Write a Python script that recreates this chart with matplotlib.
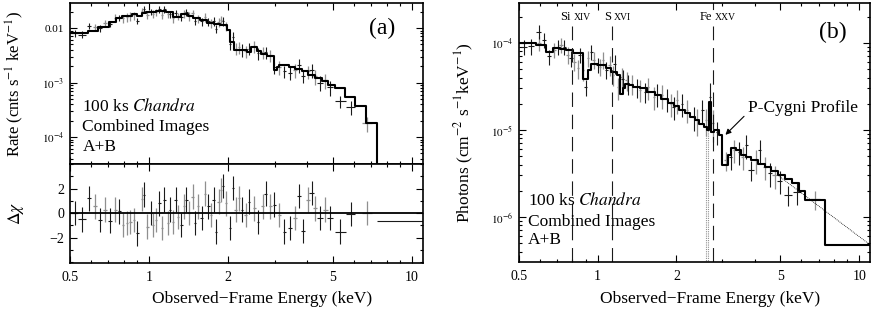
import numpy as np
import matplotlib.pyplot as plt
from matplotlib.ticker import FixedLocator, LogLocator, NullFormatter, MultipleLocator

plt.rcParams['font.family'] = ['Liberation Serif', 'DejaVu Serif']
plt.rcParams['mathtext.fontset'] = 'stix'

# ---- panel (a): folded counts spectrum ----
# model (step, edges in keV, value starting at each edge)
a_model_e = [0.50, 0.587, 0.641, 0.701, 0.745, 0.789, 0.862, 0.901, 0.94, 0.971, 1.061, 1.16,
             1.23, 1.325, 1.40, 1.47, 1.56, 1.655, 1.76, 1.864, 1.977, 2.036, 2.096, 2.36,
             2.45, 2.58, 2.66, 2.80, 2.99, 3.06, 3.13, 3.27, 3.40, 3.58, 3.80, 4.03, 4.27,
             4.53, 4.80, 5.10, 5.57, 6.09, 6.66, 7.35]
a_model_v = [0.0080, 0.0088, 0.0106, 0.0128, 0.0150, 0.0168, 0.0180, 0.0166, 0.0185, 0.0200,
             0.0205, 0.0195, 0.0162, 0.0178, 0.0165, 0.0150, 0.0138, 0.0125, 0.0120, 0.0113,
             0.0092, 0.0056, 0.0040, 0.0037, 0.0045, 0.0038, 0.0034, 0.0031, 0.0017, 0.0019,
             0.0021, 0.0021, 0.0019, 0.0018, 0.0016, 0.0014, 0.0012, 0.00105, 0.0009, 0.00078,
             0.00055, 0.00037, 0.00018, 1e-6]

# image A (black)
a_e_A = [0.521, 0.556, 0.590, 0.651, 0.711, 0.771, 0.902, 0.956, 1.015, 1.093,
         1.143, 1.202, 1.260, 1.325, 1.385, 1.492, 1.582, 1.679, 1.757, 1.798,
         1.908, 2.036, 2.085, 2.259, 2.397, 2.597, 2.780, 2.993, 3.271, 3.420,
         3.716, 3.851, 4.147, 4.467, 4.882, 5.336, 5.834]
a_hw_A = [0.017, 0.02, 0.012, 0.012, 0.012, 0.012, 0.010, 0.010, 0.012, 0.012,
          0.013, 0.013, 0.013, 0.015, 0.015, 0.016, 0.016, 0.018, 0.018, 0.018,
          0.02, 0.02, 0.02, 0.025, 0.03, 0.03, 0.035, 0.04, 0.05, 0.06,
          0.06, 0.08, 0.09, 0.1, 0.12, 0.25, 0.25]
a_rate_A = [0.0080, 0.0076, 0.0110, 0.0100, 0.0120, 0.0155, 0.0134, 0.0225, 0.0200, 0.0220,
            0.0225, 0.0180, 0.0190, 0.0160, 0.0195, 0.0135, 0.0132, 0.0132, 0.0135, 0.0098,
            0.0135, 0.0050, 0.0068, 0.0040, 0.0042, 0.0035, 0.0036, 0.0019, 0.0016, 0.0015,
            0.0021, 0.0013, 0.0017, 0.0010, 0.00082, 0.00046, 0.00036]
a_ferr_A = [0.15, 0.15, 0.14, 0.14, 0.13, 0.13, 0.13, 0.14, 0.14, 0.14,
            0.15, 0.15, 0.15, 0.15, 0.16, 0.16, 0.17, 0.18, 0.18, 0.18,
            0.18, 0.22, 0.22, 0.25, 0.25, 0.25, 0.25, 0.25, 0.25, 0.27,
            0.28, 0.25, 0.3, 0.3, 0.3, 0.25, 0.3]
a_chi_A = [0, -0.5, 1.2, -0.55, -0.6, 0.15, -1.65, 1.5, 0, 0.8,
           1.1, 0.3, 1.1, -0.95, 1.1, -0.8, -0.4, 0.55, 1.1, -1.5,
           2.2, -1.2, 2.05, 0.3, 0.95, -0.7, 1.6, 0.7, -1.5, -1.2,
           1.4, -1.45, 1.65, -0.4, -0.4, -1.5, -0.05]

# image B (grey)
a_e_B = [0.622, 0.680, 0.743, 0.794, 0.825, 0.849, 0.875, 0.937, 0.985, 1.036,
         1.061, 1.119, 1.177, 1.230, 1.286, 1.353, 1.419, 1.462, 1.537, 1.631,
         1.715, 1.836, 1.875, 1.965, 2.130, 2.193, 2.327, 2.508, 2.700, 2.890,
         3.130, 3.575, 4.027, 4.272, 4.670, 6.763]
a_hw_B = [0.012, 0.012, 0.011, 0.009, 0.009, 0.009, 0.009, 0.01, 0.01, 0.011,
          0.011, 0.011, 0.012, 0.012, 0.013, 0.013, 0.014, 0.014, 0.015, 0.016,
          0.016, 0.017, 0.017, 0.018, 0.022, 0.022, 0.025, 0.03, 0.03, 0.035,
          0.045, 0.06, 0.07, 0.09, 0.1, 0.3]
a_rate_B = [0.0104, 0.0125, 0.0155, 0.0150, 0.0158, 0.0165, 0.0170, 0.0205, 0.0175, 0.0182,
            0.0195, 0.0175, 0.0180, 0.0150, 0.0165, 0.0185, 0.0165, 0.0185, 0.0150, 0.0160,
            0.0123, 0.0130, 0.0140, 0.0108, 0.0042, 0.0045, 0.0038, 0.0047, 0.0036, 0.0032,
            0.0019, 0.0017, 0.0016, 0.0013, 0.0011, 0.00018]
a_ferr_B = [0.15, 0.14, 0.15, 0.18, 0.18, 0.18, 0.18, 0.16, 0.16, 0.16,
            0.16, 0.16, 0.16, 0.16, 0.16, 0.16, 0.17, 0.17, 0.18, 0.18,
            0.18, 0.18, 0.18, 0.2, 0.25, 0.25, 0.25, 0.25, 0.25, 0.25,
            0.28, 0.28, 0.28, 0.3, 0.3, 0.3]
a_chi_B = [0.55, 0.3, 0.3, -0.95, -0.8, -0.7, -0.55, 1.15, -1.1, -0.95,
           -0.55, -1.2, -0.8, -0.7, -0.3, 0.55, 0, 1.35, 0.55, 1.6,
           -0.15, 0.95, 1.9, 0.8, 0.3, 1.2, -0.15, 0.4, 0.55, 0.55,
           -0.15, -0.4, 1.1, 0.4, 0.3, 0]

# last wide bin of residuals (lo, hi, chi)
a_last_bin = (7.35, 11.0, -0.6)

# ---- panel (b): unfolded spectrum ----
b_model_e = [0.50, 0.58, 0.634, 0.672, 0.72, 0.757, 0.803, 0.852, 0.878, 0.918, 0.945, 1.00,
             1.08, 1.129, 1.181, 1.216, 1.245, 1.271, 1.32, 1.369, 1.45, 1.55, 1.65, 1.75,
             1.85, 1.95, 2.05, 2.15, 2.25, 2.35, 2.45, 2.55, 2.62, 2.67, 2.71, 2.78, 2.91,
             2.98, 3.14, 3.23, 3.38, 3.53, 3.70, 3.86, 4.10, 4.35, 4.60, 4.91, 5.20, 5.53,
             5.90, 6.22, 7.37, 11.0]
b_model_v = [1.0e-4, 9.6e-5, 7.95e-5, 8.7e-5, 8.6e-5, 8.3e-5, 7.6e-5, 7.7e-5, 3.9e-5, 4.9e-5,
             5.8e-5, 5.6e-5, 5.1e-5, 4.7e-5, 4.3e-5, 2.6e-5, 3.0e-5, 3.4e-5, 3.3e-5, 3.15e-5,
             3.0e-5, 2.7e-5, 2.5e-5, 2.3e-5, 2.05e-5, 1.9e-5, 1.7e-5, 1.55e-5, 1.4e-5, 1.3e-5,
             1.17e-5, 1.07e-5, 1.0e-5, 2.1e-5, 9.5e-6, 1.0e-5, 8.8e-6, 4.0e-6, 5.2e-6, 6.2e-6,
             5.9e-6, 5.2e-6, 4.9e-6, 4.5e-6, 4.1e-6, 3.8e-6, 3.4e-6, 3.0e-6, 2.7e-6, 2.45e-6,
             2.0e-6, 1.58e-6, 4.8e-7, 4.8e-7]
b_cont_e = [4.9, 11.0]
b_cont_v = [3.0e-6, 4.8e-7]

b_e_A = [0.523, 0.554, 0.594, 0.624, 0.653, 0.703, 0.746, 0.791, 0.852, 0.899,
         0.945, 1.003, 1.080, 1.163, 1.245, 1.309, 1.41, 1.52, 1.68, 1.84,
         1.95, 2.10, 2.33, 2.51, 2.69, 2.87, 3.23, 3.48, 3.70, 3.86,
         4.16, 4.55, 4.96, 5.35, 5.77]
b_hw_A = [0.012, 0.015, 0.012, 0.012, 0.012, 0.012, 0.012, 0.012, 0.012, 0.012,
          0.013, 0.014, 0.014, 0.015, 0.015, 0.016, 0.018, 0.02, 0.02, 0.022,
          0.022, 0.025, 0.03, 0.03, 0.03, 0.035, 0.04, 0.05, 0.05, 0.1,
          0.06, 0.08, 0.1, 0.2, 0.2]
b_flux_A = [9.1e-5, 9.2e-5, 1.35e-4, 1.08e-4, 7.0e-5, 9.1e-5, 9.1e-5, 6.7e-5, 7.3e-5, 3.1e-5,
            7.9e-5, 5.6e-5, 4.9e-5, 5.8e-5, 3.9e-5, 3.4e-5, 3.1e-5, 2.75e-5, 2.6e-5, 2.3e-5,
            1.85e-5, 2.0e-5, 1.4e-5, 1.7e-5, 2.4e-5, 9.6e-6, 4.9e-6, 5.6e-6, 6.7e-6, 3.5e-6,
            5.9e-6, 3.2e-6, 2.6e-6, 1.8e-6, 1.95e-6]
b_ferr_A = [0.2, 0.2, 0.18, 0.2, 0.2, 0.2, 0.2, 0.2, 0.2, 0.2,
            0.2, 0.2, 0.22, 0.25, 0.25, 0.25, 0.25, 0.25, 0.3, 0.3,
            0.3, 0.3, 0.3, 0.3, 0.45, 0.3, 0.3, 0.3, 0.3, 0.25,
            0.3, 0.3, 0.3, 0.25, 0.3]

b_e_B = [0.597, 0.683, 0.724, 0.768, 0.815, 0.84, 0.878, 0.918, 0.965, 1.018,
         1.05, 1.11, 1.146, 1.198, 1.234, 1.29, 1.348, 1.45, 1.56, 1.64,
         1.76, 1.90, 2.01, 2.20, 2.40, 2.59, 2.75, 3.09, 3.33, 3.58,
         4.03, 4.35, 4.75, 6.79]
b_hw_B = [0.01, 0.01, 0.01, 0.01, 0.01, 0.01, 0.01, 0.01, 0.011, 0.011,
          0.011, 0.012, 0.012, 0.012, 0.012, 0.013, 0.013, 0.015, 0.015, 0.016,
          0.017, 0.018, 0.02, 0.022, 0.025, 0.025, 0.03, 0.05, 0.05, 0.06,
          0.07, 0.08, 0.1, 0.3]
b_flux_B = [1.0e-4, 8.3e-5, 9.5e-5, 7.3e-5, 6.1e-5, 5.1e-5, 4.9e-5, 6.7e-5, 6.4e-5, 5.3e-5,
            6.4e-5, 5.6e-5, 4.3e-5, 3.1e-5, 4.1e-5, 3.75e-5, 3.4e-5, 2.9e-5, 3.1e-5, 2.4e-5,
            2.5e-5, 2.0e-5, 2.2e-5, 1.7e-5, 1.3e-5, 1.3e-5, 1.2e-5, 4.5e-6, 5.9e-6, 4.9e-6,
            4.5e-6, 3.8e-6, 3.0e-6, 1.6e-6]
b_ferr_B = [0.2, 0.2, 0.2, 0.22, 0.22, 0.25, 0.25, 0.22, 0.22, 0.22,
            0.22, 0.25, 0.25, 0.28, 0.25, 0.25, 0.25, 0.28, 0.28, 0.3,
            0.3, 0.3, 0.3, 0.3, 0.35, 0.35, 0.4, 0.25, 0.3, 0.3,
            0.3, 0.3, 0.3, 0.25]
# grey bins whose lower error goes to zero (drawn dotted)
b_open_e = [2.60, 2.64]
b_open_top = [1.05e-5, 1.3e-5]

lines_e = [0.796, 1.13, 2.75]
lines_el = ['Si', 'S', 'Fe']
lines_ion = ['XIV', 'XVI', 'XXV']

BLACK = '#1a1a1a'
GREY = '#8f8f8f'
XT = [0.5, 1, 2, 5, 10]
XT_MINOR = [0.6, 0.7, 0.8, 0.9, 3, 4, 6, 7, 8, 9]


def style_x(ax, labels=True):
    ax.set_xscale('log')
    ax.set_xlim(0.5, 11.0)
    ax.set_xticks(XT)
    ax.xaxis.set_minor_locator(FixedLocator(XT_MINOR))
    ax.xaxis.set_minor_formatter(NullFormatter())
    if labels:
        ax.set_xticklabels(['0.5', '1', '2', '5', '10'])
    else:
        ax.xaxis.set_major_formatter(NullFormatter())
    ax.tick_params(which='both', direction='in', top=True, right=True, width=0.8)
    ax.tick_params(which='major', length=5, labelsize=10, pad=6)
    ax.tick_params(which='minor', length=2.5)
    for s in ax.spines.values():
        s.set_linewidth(1.2)


fig = plt.figure(figsize=(8.71, 3.13), dpi=100)
ax1 = fig.add_axes([70 / 871, 1 - 164 / 313, 353 / 871, 161 / 313])
ax2 = fig.add_axes([70 / 871, 1 - 263 / 313, 353 / 871, 99 / 313])
ax3 = fig.add_axes([519 / 871, 1 - 262 / 313, 351 / 871, 259 / 313])

# --- (a) top
ax1.errorbar(a_e_B, a_rate_B, xerr=a_hw_B, yerr=np.array(a_rate_B) * np.array(a_ferr_B),
             fmt='none', ecolor=GREY, elinewidth=0.9, capsize=0)
ax1.errorbar(a_e_A, a_rate_A, xerr=a_hw_A, yerr=np.array(a_rate_A) * np.array(a_ferr_A),
             fmt='none', ecolor=BLACK, elinewidth=0.8, capsize=0)
ax1.step(a_model_e, a_model_v, where='post', color='black', lw=1.5)
ax1.set_yscale('log')
ax1.set_ylim(3.2e-5, 0.0288)
style_x(ax1, labels=False)
ax1.set_yticks([1e-4, 1e-3, 1e-2])
ax1.set_yticklabels([r'$10^{-4}$', r'$10^{-3}$', '0.01'])
ax1.yaxis.set_minor_locator(LogLocator(base=10, subs=np.arange(2, 10), numticks=20))
ax1.yaxis.set_minor_formatter(NullFormatter())
ax1.tick_params(axis='y', which='major', labelsize=8, pad=4)
ax1.set_ylabel(r'Rate (cnts s$^{-1}$ keV$^{-1}$)', fontsize=12)
ax1.yaxis.set_label_coords(-0.125, 0.5)
ax1.text(0.885, 0.845, '(a)', transform=ax1.transAxes, fontsize=17, ha='center', va='center')
for yy, s in zip([0.355, 0.23, 0.105], [r'100 ks $\mathit{Chandra}$', 'Combined Images', 'A+B']):
    ax1.text(0.035, yy, s, transform=ax1.transAxes, fontsize=12.5, ha='left', va='center')

# --- (a) residuals
ax2.errorbar(a_e_B, a_chi_B, xerr=a_hw_B, yerr=1.0, fmt='none', ecolor=GREY,
             elinewidth=0.9, capsize=0)
ax2.errorbar(a_e_A, a_chi_A, xerr=a_hw_A, yerr=1.0, fmt='none', ecolor=BLACK,
             elinewidth=0.8, capsize=0)
ax2.hlines(a_last_bin[2], a_last_bin[0], a_last_bin[1], color=BLACK, lw=0.8)
ax2.axhline(0, color='black', lw=1.3)
ax2.set_ylim(-4.05, 4.0)
style_x(ax2)
ax2.yaxis.set_major_locator(FixedLocator([-2, 0, 2]))
ax2.yaxis.set_minor_locator(MultipleLocator(1))
ax2.tick_params(axis='y', which='major', labelsize=10, pad=4)
ax2.set_ylabel(r'$\Delta\chi$', fontsize=12.5)
ax2.yaxis.set_label_coords(-0.125, 0.5)
ax2.set_xlabel('Observed\u2212Frame Energy (keV)', fontsize=12.5)
ax2.xaxis.set_label_coords(0.545, -0.285)

# --- (b)
for e, t in zip(b_open_e, b_open_top):
    ax3.vlines(e, 1e-8, t, color=GREY, lw=0.8, linestyles=(0, (1, 1)))
ax3.errorbar(b_e_B, b_flux_B, xerr=b_hw_B, yerr=np.array(b_flux_B) * np.array(b_ferr_B),
             fmt='none', ecolor=GREY, elinewidth=0.9, capsize=0)
ax3.errorbar(b_e_A, b_flux_A, xerr=b_hw_A, yerr=np.array(b_flux_A) * np.array(b_ferr_A),
             fmt='none', ecolor=BLACK, elinewidth=0.8, capsize=0)
ax3.step(b_model_e, b_model_v, where='post', color='black', lw=1.5)
ax3.plot(b_cont_e, b_cont_v, color='black', lw=0.6, ls=(0, (1, 1.2)))
ax3.set_yscale('log')
ax3.set_ylim(3.04e-7, 2.88e-4)
style_x(ax3)
ax3.set_yticks([1e-6, 1e-5, 1e-4])
ax3.set_yticklabels([r'$10^{-6}$', r'$10^{-5}$', r'$10^{-4}$'])
ax3.yaxis.set_minor_locator(LogLocator(base=10, subs=np.arange(2, 10), numticks=20))
ax3.yaxis.set_minor_formatter(NullFormatter())
ax3.tick_params(axis='y', which='major', labelsize=8, pad=4)
ax3.set_ylabel(r'Photons (cm$^{-2}$ s$^{-1}$keV$^{-1}$)', fontsize=12.5)
ax3.yaxis.set_label_coords(-0.122, 0.5)
ax3.set_xlabel('Observed\u2212Frame Energy (keV)', fontsize=12.5)
ax3.xaxis.set_label_coords(0.545, -0.112)

dash = (0, (13, 7))
for e, el, ion in zip(lines_e, lines_el, lines_ion):
    ax3.axvline(e, ymin=0, ymax=0.91, color=BLACK, lw=0.8, ls=dash)
    ax3.annotate(el, xy=(e, 0.946), xycoords=('data', 'axes fraction'), xytext=(-0.5, 0),
                 textcoords='offset points', ha='right', va='center', fontsize=9)
    ax3.annotate(ion, xy=(e, 0.946), xycoords=('data', 'axes fraction'), xytext=(1.5, -0.3),
                 textcoords='offset points', ha='left', va='center', fontsize=7)
ax3.axvline(lines_e[2], ymin=0.975, ymax=1.0, color=BLACK, lw=0.8)

ax3.annotate('P-Cygni Profile', xy=(3.08, 8.8e-6), xytext=(3.75, 1.8e-5), fontsize=12.5,
             ha='left', va='center',
             arrowprops=dict(arrowstyle='-|>', color='black', lw=0.8, mutation_scale=8,
                             shrinkA=1, shrinkB=0, relpos=(0, 0.2)))
ax3.text(0.895, 0.888, '(b)', transform=ax3.transAxes, fontsize=17, ha='center', va='center')
for yy, s in zip([0.239, 0.154, 0.085], [r'100 ks $\mathit{Chandra}$', 'Combined Images', 'A+B']):
    ax3.text(0.026, yy, s, transform=ax3.transAxes, fontsize=12.5, ha='left', va='center')

fig.savefig('out.png', dpi=100)
